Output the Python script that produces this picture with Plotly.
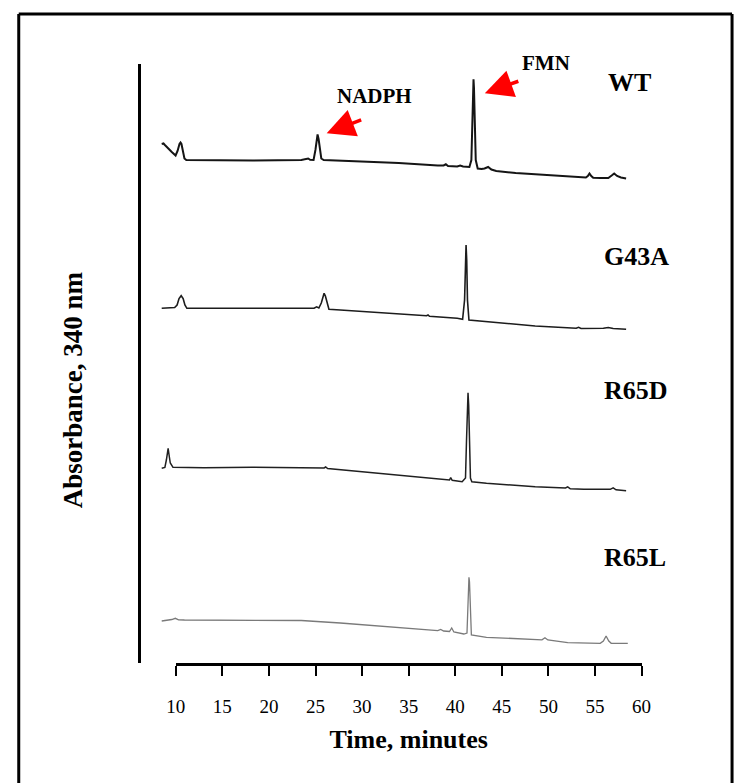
import plotly.graph_objects as go

# ---------------- data (retention time in minutes, absorbance in arbitrary units above each trace's baseline)
wt_time = [8.49, 8.68, 8.83, 9.15, 9.57, 9.98, 10.19, 10.40, 10.51, 10.61, 10.77, 10.93, 11.13, 13.02, 18.25,
           23.48, 24.00, 24.21, 24.42, 24.79, 24.99, 25.13, 25.22, 25.33, 25.47, 25.62, 25.88, 28.71, 33.94,
           38.12, 38.75, 38.99, 39.22, 40.21, 40.53, 40.84, 41.52, 41.73, 41.86, 41.92, 41.96, 42.01, 42.08,
           42.20, 42.41, 42.83, 43.14, 43.53, 43.88, 44.40, 46.49, 49.63, 51.72, 54.02, 54.23, 54.41, 54.60,
           54.81, 55.59, 56.43, 56.79, 57.06, 57.37, 57.79, 58.34]
wt_abs = [16, 16.5, 15, 11.5, 8, 4.5, 9, 16, 17.5, 16, 8, 1.5, 0, -0.3, -0.5,
          0, 0.7, 1.5, 0.2, 0, 10, 21, 25.5, 21, 10, 1.5, 0, -1, -3,
          -5.5, -5.5, -4.3, -6, -6.5, -5.5, -6.5, -7, 0, 40, 72, 80.7, 72, 40,
          0, -8.5, -9, -8.5, -7, -9.5, -11, -13, -15, -16.5, -17.5, -16, -13.5, -16,
          -17.8, -18, -18, -15.5, -13.5, -16, -17.5, -18.5]

g43a_time = [8.49, 9.36, 9.88, 10.14, 10.35, 10.58, 10.79, 10.98, 11.19, 18.25, 23.48, 24.84, 25.12, 25.36,
             25.62, 25.78, 25.92, 26.06, 26.23, 26.44, 27.66, 31.85, 36.92, 37.08, 37.23, 40.21, 40.79, 41.00,
             41.08, 41.16, 41.23, 41.31, 41.47, 43.35, 48.58, 52.98, 53.24, 53.50, 55.90, 56.43, 56.95, 58.34]
g43a_abs = [0, 0.3, 0.8, 3.3, 9.8, 12.6, 9.8, 3.3, 0, 0, -0.2, 0, 1.5, 0.3,
            5.3, 12.3, 15, 12.3, 5.3, -1, -1.7, -4.2, -7.5, -6.7, -8, -10, -11, 8.3,
            48.3, 63.3, 48.3, 8.3, -11.7, -13.4, -17.7, -20, -19, -20.2, -20, -19.2, -20.2, -21]

r65d_time = [8.49, 8.83, 8.99, 9.09, 9.18, 9.28, 9.41, 9.70, 13.02, 18.25, 23.48, 25.92, 26.09, 26.30, 31.15,
             38.12, 39.38, 39.51, 39.67, 40.74, 41.10, 41.21, 41.29, 41.37, 41.44, 41.52, 41.63, 41.78, 43.35,
             48.58, 51.83, 52.07, 52.35, 53.81, 56.64, 56.95, 57.26, 58.34]
r65d_abs = [-0.6, 0.2, 7.7, 15.7, 19.4, 12.7, 4.7, 0.4, 0, 0.4, 0.2, -0.3, 0.7, -0.8, -5,
            -11.6, -12.3, -10, -12.6, -14, -10.3, 27.7, 62.7, 75, 62.7, 27.7, -10.3, -14, -15.6,
            -19, -20.3, -19.1, -21.1, -21.6, -21.6, -20.1, -22.1, -23]

r65l_time = [8.49, 9.15, 9.57, 9.95, 10.30, 10.93, 18.25, 23.48, 27.66, 34.64, 38.12, 38.44, 38.75, 39.38,
             39.62, 39.85, 40.92, 41.26, 41.34, 41.42, 41.47, 41.53, 41.61, 41.73, 43.35, 48.58, 49.31, 49.63,
             49.94, 52.07, 55.56, 55.90, 56.19, 56.48, 56.74, 58.52]
r65l_abs = [-1, -0.5, 0.5, 1.7, 0.2, 0, 0, -0.5, -3, -8.3, -10.7, -9.5, -11, -11.5,
            -8, -12, -14, -13, 15, 40, 42.7, 38, 10, -15, -17.3, -20, -19.8, -17.7,
            -20, -22.7, -23.3, -21, -16, -21, -23.3, -23.3]

sample_names = ["WT", "G43A", "R65D", "R65L"]
stack_offsets = [503, 354.7, 195.3, 43]   # vertical stacking of the chromatograms
tick_values = [10, 15, 20, 25, 30, 35, 40, 45, 50, 55, 60]
x_title = "Time, minutes"
y_title = "Absorbance, 340 nm"

# ---------------- layout geometry
W, H = 744, 783
PX_PER_MIN = 9.56
PX_AT_35 = 410.15


def min_to_px(t):
    return PX_AT_35 + PX_PER_MIN * (t - 35)


def px_to_min(px):
    return 35 + (px - PX_AT_35) / PX_PER_MIN


def py(px):
    return 1 - px / H


plot_left, plot_right = 135, 720
plot_top, plot_bottom = 64, 663
SERIF = "Liberation Serif, Times New Roman, serif"

fig = go.Figure()

series = [(wt_time, wt_abs), (g43a_time, g43a_abs), (r65d_time, r65d_abs), (r65l_time, r65l_abs)]
colors = ["#151515", "#1c1c1c", "#202020", "#7a7a7a"]
widths = [2.0, 1.6, 1.5, 1.3]
for (t, a), off, name, c, w in zip(series, stack_offsets, sample_names, colors, widths):
    fig.add_trace(go.Scatter(x=t, y=[v + off for v in a], mode="lines", name=name,
                             line=dict(color=c, width=w), hoverinfo="skip"))

# invisible trace to host the visible time axis
fig.add_trace(go.Scatter(x=[10, 60], y=[0, 0], xaxis="x2", yaxis="y2", mode="lines",
                         line=dict(width=0), hoverinfo="skip", showlegend=False))

fig.update_layout(
    width=W, height=H,
    margin=dict(l=0, r=0, t=0, b=0),
    paper_bgcolor="white", plot_bgcolor="rgba(0,0,0,0)",
    showlegend=False,
    xaxis=dict(domain=[plot_left / W, plot_right / W],
               range=[px_to_min(plot_left), px_to_min(plot_right)],
               visible=False, fixedrange=True),
    yaxis=dict(domain=[py(plot_bottom), py(plot_top)], range=[0, plot_bottom - plot_top],
               showline=True, linecolor="black", linewidth=2.5, ticks="",
               showticklabels=False, showgrid=False, zeroline=False, fixedrange=True),
    xaxis2=dict(domain=[min_to_px(10) / W, min_to_px(60) / W], range=[10, 60], anchor="y2",
                tickmode="array", tickvals=tick_values, ticktext=[str(v) for v in tick_values],
                ticks="outside", ticklen=10, tickwidth=2, tickcolor="black",
                showline=True, linecolor="black", linewidth=3, showgrid=False, zeroline=False,
                tickfont=dict(family=SERIF, size=19, color="black"), ticklabelstandoff=14,
                title=dict(text="<b>" + x_title + "</b>", standoff=15,
                           font=dict(family=SERIF, size=26, color="black")),
                fixedrange=True),
    yaxis2=dict(domain=[py(plot_bottom), py(plot_bottom - 5)], range=[0, 1], anchor="x2",
                visible=False, fixedrange=True),
)

ann = []
ann.append(dict(text="<b>" + y_title + "</b>", x=66 / W, y=py(390), xref="paper", yref="paper",
                showarrow=False, textangle=-90, font=dict(family=SERIF, size=27, color="black"),
                xanchor="center", yanchor="middle"))
label_pos = [(613, 82), (609, 256), (609, 390), (609, 557)]
for name, (lx, ly) in zip(sample_names, label_pos):
    ann.append(dict(text="<b>" + name + "</b>", x=lx / W, y=py(ly), xref="paper", yref="paper",
                    showarrow=False, xanchor="left", yanchor="middle",
                    font=dict(family=SERIF, size=26, color="black")))
ann.append(dict(text="<b>NADPH</b>", x=375 / W, y=py(96), xref="paper", yref="paper", showarrow=False,
                xanchor="center", yanchor="middle", font=dict(family=SERIF, size=21, color="black")))
ann.append(dict(text="<b>FMN</b>", x=551 / W, y=py(62.5), xref="paper", yref="paper", showarrow=False,
                xanchor="center", yanchor="middle", font=dict(family=SERIF, size=21, color="black")))
# red arrows
for (tx, ty), (dx, dy) in [((326, 133.3), (36, -14)), ((488.3, 93.3), (35, -12.6))]:
    ann.append(dict(text="", x=tx / W, y=py(ty), xref="paper", yref="paper", showarrow=True,
                    ax=dx, ay=dy, arrowhead=2, arrowsize=1.6, arrowwidth=3.5, arrowcolor="#ff0000",
                    standoff=0, startstandoff=0))
fig.update_layout(annotations=ann)

# frame around the figure
frame = dict(type="line", xref="paper", yref="paper", line=dict(color="black", width=3))
fig.add_shape(**frame, x0=10 / W, x1=10 / W, y0=py(14), y1=-0.01)
fig.add_shape(**frame, x0=10 / W, x1=742 / W, y0=py(14), y1=py(14))
fig.add_shape(**frame, x0=742 / W, x1=742 / W, y0=py(14), y1=-0.01)

fig.write_html("out.html")
